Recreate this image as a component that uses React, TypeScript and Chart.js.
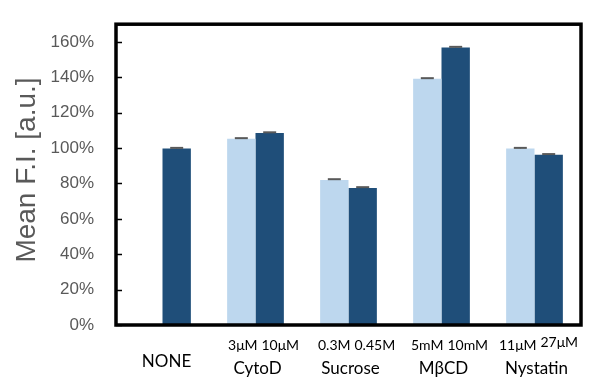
import React, { useEffect, useRef } from "react";
import { Chart, registerables } from "chart.js";

Chart.register(...registerables);

const categories = ["NONE", "CytoD", "Sucrose", "MβCD", "Nystatin"];
const subLabelsLeft = ["", "3μM", "0.3M", "5mM", "11μM"];
const subLabelsRight = ["", "10μM", "0.45M", "10mM", "27μM"];
const lowDose: (number | null)[] = [null, 105.2, 82.0, 139.1, 99.7];
const highDose: number[] = [99.7, 108.5, 77.4, 156.9, 96.2];
const lowErr: (number | null)[] = [null, 0.4, 0.4, 0.4, 0.4];
const highErr: number[] = [0.4, 0.4, 0.5, 0.3, 0.4];
const yTicks = [0, 20, 40, 60, 80, 100, 120, 140, 160];

const LIGHT = "#BDD7EE";
const DARK = "#1F4E79";
const GRAY = "#595959";

export default function App() {
  const ref = useRef<HTMLCanvasElement | null>(null);
  useEffect(() => {
    document.body.style.margin = "0";
    const canvas = ref.current;
    if (!canvas) return;

    const decor = {
      id: "decor",
      afterDatasetsDraw(chart: any) {
        const ctx = chart.ctx;
        const y = chart.scales.y;
        const errs = [lowErr, highErr];
        chart.data.datasets.forEach((ds: any, di: number) => {
          const meta = chart.getDatasetMeta(di);
          meta.data.forEach((bar: any, i: number) => {
            const v = ds.data[i];
            const e = errs[di][i];
            if (v == null || e == null) return;
            const yTop = y.getPixelForValue(v + e);
            const yBase = y.getPixelForValue(v);
            ctx.save();
            ctx.strokeStyle = GRAY;
            ctx.lineWidth = 1;
            ctx.beginPath();
            ctx.moveTo(bar.x, yBase);
            ctx.lineTo(bar.x, yTop);
            ctx.stroke();
            ctx.lineWidth = 2;
            ctx.beginPath();
            ctx.moveTo(bar.x - 6.5, yTop);
            ctx.lineTo(bar.x + 6.5, yTop);
            ctx.stroke();
            ctx.restore();
          });
        });
      },
      afterDraw(chart: any) {
        const ctx = chart.ctx;
        const a = chart.chartArea;
        const x = chart.scales.x;
        const y = chart.scales.y;
        ctx.save();
        ctx.strokeStyle = "#000";
        ctx.lineWidth = 3.5;
        ctx.strokeRect(a.left, a.top, a.right - a.left, a.bottom - a.top);
        ctx.lineWidth = 1.5;
        yTicks.forEach((t) => {
          const py = Math.round(y.getPixelForValue(t)) + 0.5;
          ctx.beginPath();
          ctx.moveTo(a.left, py);
          ctx.lineTo(a.left + 6, py);
          ctx.stroke();
        });
        ctx.fillStyle = GRAY;
        ctx.font = "28px 'Liberation Sans', Arial, sans-serif";
        ctx.textAlign = "center";
        ctx.textBaseline = "middle";
        ctx.save();
        ctx.translate(27, 170);
        ctx.rotate(-Math.PI / 2);
        ctx.fillText("Mean F.I. [a.u.]", 0, 0);
        ctx.restore();
        ctx.fillStyle = "#000";
        categories.forEach((c, i) => {
          const cx = x.getPixelForValue(i);
          if (!subLabelsLeft[i]) {
            ctx.font = "17px Lato, 'Open Sans', sans-serif";
            ctx.textAlign = "center";
            ctx.textBaseline = "middle";
            ctx.fillText(c, cx + 4, 362);
            return;
          }
          ctx.font = "14px Lato, 'Open Sans', sans-serif";
          ctx.textBaseline = "middle";
          ctx.textAlign = "right";
          ctx.fillText(subLabelsLeft[i], cx + 2, 345);
          ctx.textAlign = "left";
          ctx.fillText(subLabelsRight[i], cx + 6, i === 4 ? 342 : 345);
          ctx.font = "17px Lato, 'Open Sans', sans-serif";
          ctx.textAlign = "center";
          ctx.fillText(c, cx + 2, 369);
        });
        ctx.restore();
      },
    };

    const chart = new Chart(canvas, {
      type: "bar",
      data: {
        labels: categories,
        datasets: [
          {
            label: "low",
            data: lowDose,
            backgroundColor: LIGHT,
            borderWidth: 0,
            categoryPercentage: 0.61,
            barPercentage: 1,
          },
          {
            label: "high",
            data: highDose,
            backgroundColor: DARK,
            borderWidth: 0,
            categoryPercentage: 0.61,
            barPercentage: 1,
          },
        ],
      },
      options: {
        animation: false,
        responsive: true,
        maintainAspectRatio: false,
        layout: { padding: { top: 12, right: 12, left: 0, bottom: 0 } },
        plugins: {
          legend: { display: false },
          tooltip: { enabled: false },
        },
        scales: {
          x: {
            ticks: { display: false },
            grid: { display: false },
            border: { display: false },
            afterFit: (s: any) => {
              s.height = 56;
            },
          },
          y: {
            min: 0,
            max: 170,
            afterBuildTicks: (s: any) => {
              s.ticks = yTicks.map((v) => ({ value: v }));
            },
            ticks: {
              color: GRAY,
              font: { size: 17, family: "'Liberation Sans', Arial, sans-serif" },
              padding: 14,
              callback: (v: any) => `${v}%`,
            },
            grid: { display: false },
            border: { display: false },
            afterFit: (s: any) => {
              s.width = 116;
            },
          },
        },
      },
      plugins: [decor],
    });
    return () => chart.destroy();
  }, []);

  return (
    <div style={{ width: 593, height: 381, position: "relative" }}>
      <canvas ref={ref} />
    </div>
  );
}
